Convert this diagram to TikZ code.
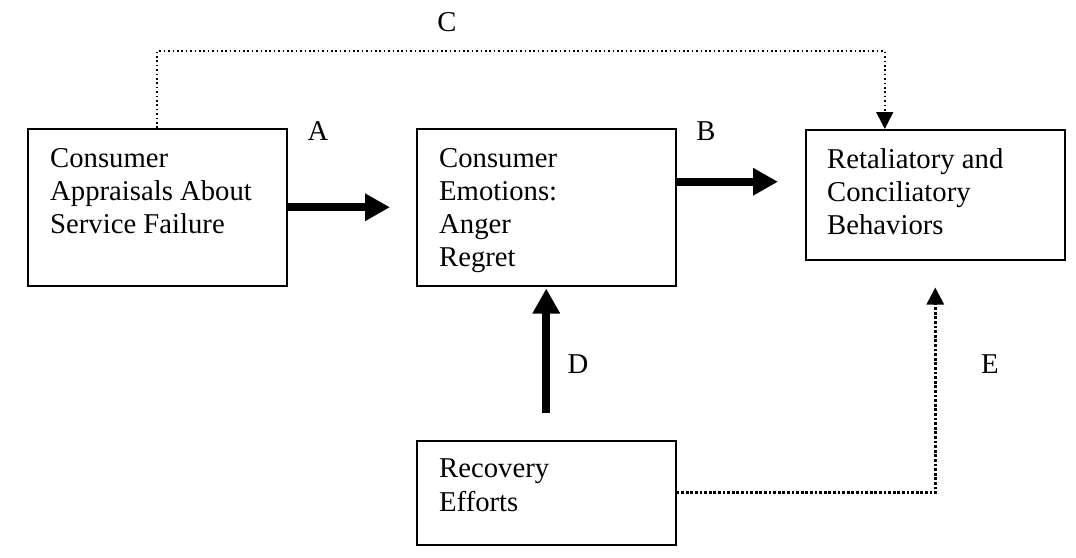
\documentclass[tikz,border=0pt]{standalone}
\usepackage{fontspec}
\setmainfont{Liberation Serif}
\usetikzlibrary{arrows.meta}

\tikzset{
  box/.style={draw, line width=1.5pt, minimum width=259pt, anchor=north west, inner sep=0pt},
  boxtext/.style={anchor=north west, align=left, inner sep=0pt, font=\fontsize{28.7}{33}\selectfont},
  tag/.style={inner sep=0pt, font=\fontsize{28.7}{33}\selectfont},
  bigarrow/.style={line width=8pt, -{Triangle[length=25pt,width=26pt]}},
  dotarrow/.style={line width=1.6pt, dash pattern=on 1.6pt off 2.8pt, -{Triangle[length=17pt,width=17pt]}},
}

\begin{document}
\begin{tikzpicture}[x=1pt,y=-1pt]
  \useasboundingbox (0,0) rectangle (1076,557);

  \node[box, minimum height=157pt] (appraisal) at (27,128) {};
  \node[box, minimum height=157pt] (emotion) at (416,128) {};
  \node[box, minimum height=130pt] (behavior) at (805,129) {};
  \node[box, minimum height=104pt] (recovery) at (416,440) {};

  \node[boxtext] (appraisaltext) at ([shift={(23,20)}]appraisal.north west) {Consumer\\Appraisals About\\Service Failure};
  \node[boxtext] (emotiontext) at ([shift={(23,20)}]emotion.north west) {Consumer\\Emotions:\\Anger\\Regret};
  \node[boxtext] (behaviortext) at ([shift={(22,19)}]behavior.north west) {Retaliatory and\\Conciliatory\\Behaviors};
  \node[boxtext] (recoverytext) at ([shift={(23,19)}]recovery.north west) {Recovery\\Efforts};

  \coordinate (bstart) at ([yshift=25.5pt]emotion.east);

  \draw[bigarrow, shorten >=26pt] (appraisal.east) -- (emotion.west);
  \draw[bigarrow, shorten >=27pt] (bstart) -- (bstart -| behavior.west);
  \draw[bigarrow, shorten <=27pt, shorten >=2pt] (recovery.north) -- (emotion.south);
  \draw[dotarrow] (appraisal.north) -- ++(0,-77) -| ([xshift=-50.5pt]behavior.north);
  \draw[dotarrow, line width=2.8pt, dash pattern=on 2.8pt off 1.8pt, shorten >=27pt] (recovery.east) -| (behavior.south);

  \node[tag] (labA) at (318,131) {A};
  \node[tag] (labB) at (706,131) {B};
  \node[tag] (labC) at (447,22) {C};
  \node[tag] (labD) at (578,364) {D};
  \node[tag] (labE) at (990,364) {E};
\end{tikzpicture}
\end{document}
